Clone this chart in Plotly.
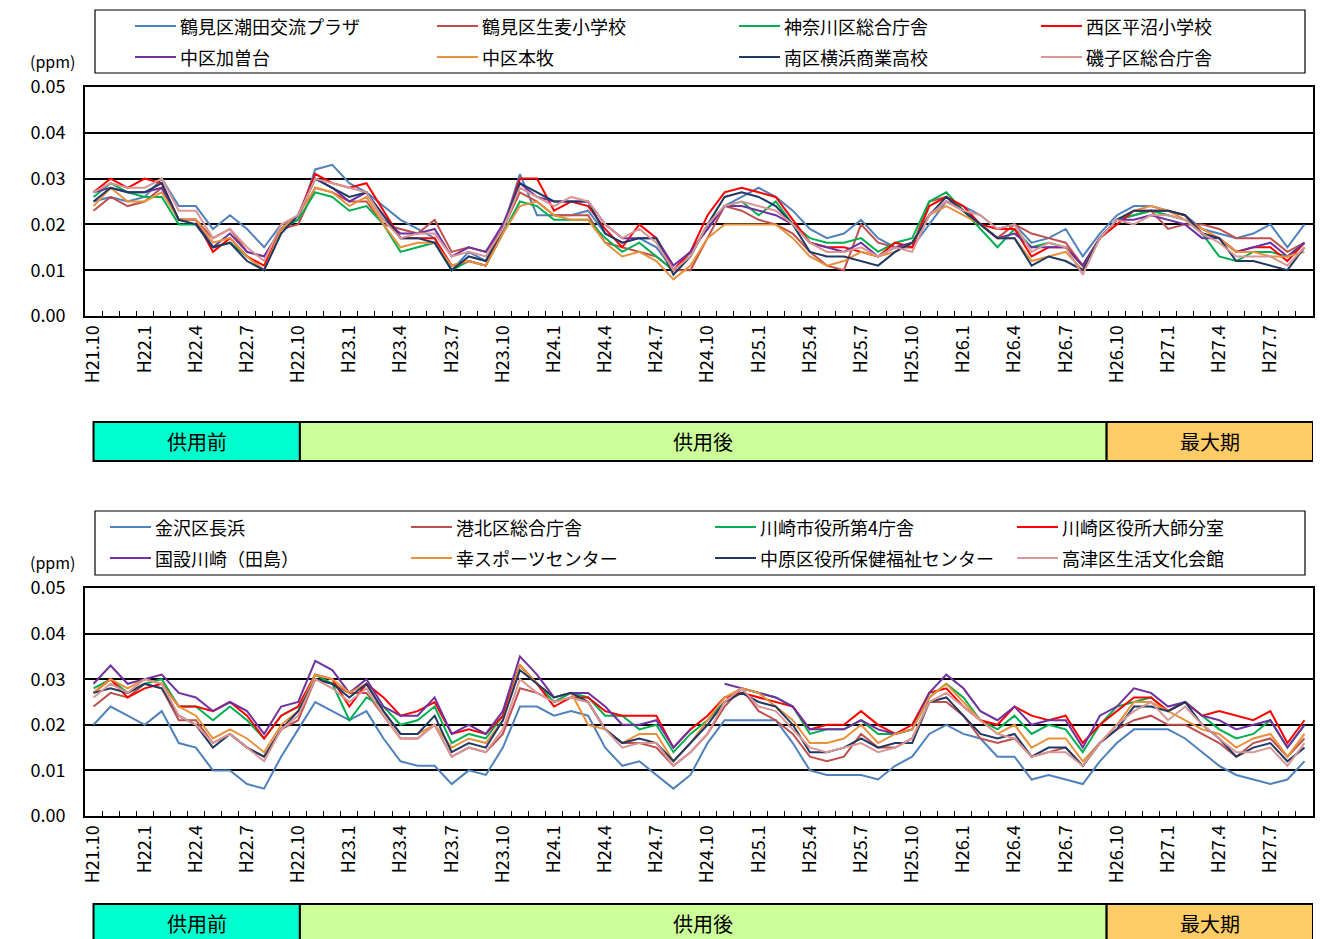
import plotly.graph_objects as go

W, H = 1326, 939
FONT = "Noto Sans CJK JP"

# Monthly categories H21.10 ... H27.9
months = []
yy, mm = 21, 10
for _ in range(72):
    months.append(f"H{yy}.{mm}")
    mm += 1
    if mm > 12:
        mm, yy = 1, yy + 1
tick_text = [lab if k % 3 == 0 else "" for k, lab in enumerate(months)]

colors = ["#4F81BD", "#C0504D", "#00B050", "#FF0000",
          "#7030A0", "#E8913A", "#1F3864", "#D99694"]

# ---- upper chart: Yokohama stations (ppm) ----
top_names = ["鶴見区潮田交流プラザ", "鶴見区生麦小学校", "神奈川区総合庁舎", "西区平沼小学校",
             "中区加曽台", "中区本牧", "南区横浜商業高校", "磯子区総合庁舎"]

ushioda = [0.025, 0.026, 0.025, 0.026, 0.030, 0.024, 0.024, 0.019, 0.022, 0.019, 0.015, 0.020, 0.021, 0.032, 0.033,
           0.029, 0.027, 0.024, 0.021, 0.019, 0.017, 0.010, 0.014, 0.012, 0.019, 0.031, 0.022, 0.022, 0.022,
           0.023, 0.018, 0.016, 0.017, 0.015, 0.010, 0.014, 0.019, 0.024, 0.026, 0.028, 0.026, 0.023, 0.019,
           0.017, 0.018, 0.021, 0.017, 0.015, 0.015, 0.020, 0.025, 0.024, 0.022, 0.019, 0.020, 0.016, 0.017,
           0.019, 0.013, 0.018, 0.022, 0.024, 0.024, 0.023, 0.022, 0.019, 0.018, 0.017, 0.018, 0.020, 0.015, 0.020]
namamugi = [0.023, 0.026, 0.024, 0.025, 0.028, 0.021, 0.021, 0.017, 0.019, 0.014, 0.013, 0.019, 0.020, 0.028, 0.027,
            0.025, 0.025, 0.020, 0.019, 0.018, 0.021, 0.014, 0.015, 0.014, 0.019, 0.027, 0.025, 0.022, 0.022,
            0.022, 0.016, 0.015, 0.014, 0.013, 0.010, 0.010, 0.017, 0.024, 0.023, 0.021, 0.020, 0.018, 0.014,
            0.011, 0.010, 0.020, 0.016, 0.015, 0.015, 0.025, 0.026, 0.023, 0.020, 0.017, 0.020, 0.018, 0.017,
            0.016, 0.011, 0.017, 0.021, 0.022, 0.023, 0.019, 0.020, 0.020, 0.019, 0.017, 0.017, 0.017, 0.014, 0.016]
kanagawa = [0.026, 0.029, 0.027, 0.026, 0.026, 0.020, 0.020, 0.015, 0.016, 0.013, 0.010, 0.019, 0.021, 0.027, 0.026,
            0.023, 0.024, 0.020, 0.014, 0.015, 0.016, 0.010, 0.012, 0.011, 0.018, 0.025, 0.024, 0.021, 0.021,
            0.021, 0.017, 0.014, 0.016, 0.013, 0.010, 0.013, 0.020, 0.024, 0.025, 0.022, 0.025, 0.020, 0.017,
            0.016, 0.016, 0.017, 0.014, 0.016, 0.017, 0.025, 0.027, 0.023, 0.019, 0.015, 0.019, 0.015, 0.016,
            0.015, 0.011, 0.017, 0.021, 0.022, 0.023, 0.022, 0.021, 0.018, 0.013, 0.012, 0.014, 0.014, 0.013, 0.016]
hiranuma = [0.027, 0.030, 0.028, 0.030, 0.029, 0.021, 0.021, 0.014, 0.017, 0.013, 0.011, 0.019, 0.022, 0.031, 0.029,
            0.028, 0.029, 0.023, 0.017, 0.017, 0.017, 0.011, 0.012, 0.011, 0.019, 0.030, 0.030, 0.023, 0.025,
            0.024, 0.019, 0.015, 0.020, 0.017, 0.010, 0.014, 0.022, 0.027, 0.028, 0.027, 0.026, 0.021, 0.016,
            0.015, 0.015, 0.014, 0.013, 0.016, 0.015, 0.024, 0.026, 0.024, 0.020, 0.019, 0.019, 0.013, 0.015,
            0.015, 0.011, 0.017, 0.020, 0.023, 0.023, 0.023, 0.022, 0.018, 0.017, 0.014, 0.015, 0.015, 0.012, 0.016]
kasodai = [0.027, 0.028, 0.027, 0.027, 0.028, 0.021, 0.021, 0.015, 0.018, 0.014, 0.013, 0.019, 0.022, 0.030, 0.028,
           0.025, 0.027, 0.021, 0.018, 0.018, 0.019, 0.013, 0.015, 0.014, 0.020, 0.029, 0.026, 0.025, 0.025,
           0.025, 0.020, 0.017, 0.017, 0.017, 0.011, 0.014, 0.019, 0.024, 0.024, 0.023, 0.022, 0.020, 0.016,
           0.015, 0.014, 0.016, 0.013, 0.015, 0.016, 0.022, 0.025, 0.023, 0.020, 0.017, 0.018, 0.015, 0.015,
           0.015, 0.011, 0.017, 0.021, 0.021, 0.022, 0.021, 0.020, 0.017, 0.017, 0.014, 0.015, 0.016, 0.013, 0.016]
honmoku = [0.024, 0.028, 0.025, 0.025, 0.027, 0.021, 0.021, 0.016, 0.017, 0.013, 0.010, 0.019, 0.022, 0.028, 0.027,
           0.024, 0.026, 0.020, 0.015, 0.016, 0.016, 0.011, 0.012, 0.011, 0.018, 0.024, 0.025, 0.022, 0.021,
           0.021, 0.016, 0.013, 0.014, 0.012, 0.008, 0.011, 0.017, 0.020, 0.020, 0.020, 0.020, 0.017, 0.013,
           0.011, 0.012, 0.014, 0.013, 0.014, 0.016, 0.022, 0.024, 0.022, 0.020, 0.017, 0.017, 0.012, 0.013,
           0.014, 0.010, 0.017, 0.021, 0.023, 0.024, 0.023, 0.021, 0.019, 0.017, 0.014, 0.014, 0.013, 0.013, 0.014]
yokoshou = [0.025, 0.028, 0.027, 0.027, 0.029, 0.021, 0.020, 0.015, 0.016, 0.012, 0.010, 0.018, 0.022, 0.030, 0.028,
            0.026, 0.027, 0.022, 0.017, 0.017, 0.016, 0.010, 0.013, 0.012, 0.019, 0.029, 0.027, 0.025, 0.025,
            0.025, 0.018, 0.016, 0.017, 0.017, 0.009, 0.013, 0.020, 0.026, 0.027, 0.026, 0.024, 0.020, 0.014,
            0.013, 0.013, 0.012, 0.011, 0.014, 0.016, 0.022, 0.026, 0.023, 0.020, 0.017, 0.017, 0.011, 0.013,
            0.012, 0.010, 0.017, 0.021, 0.023, 0.023, 0.023, 0.022, 0.018, 0.017, 0.012, 0.012, 0.011, 0.010, 0.015]
isogo = [0.027, 0.029, 0.028, 0.028, 0.030, 0.023, 0.023, 0.017, 0.019, 0.015, 0.012, 0.020, 0.022, 0.030, 0.029,
         0.028, 0.027, 0.021, 0.017, 0.018, 0.018, 0.013, 0.014, 0.013, 0.019, 0.028, 0.026, 0.024, 0.026,
         0.025, 0.020, 0.017, 0.019, 0.016, 0.010, 0.013, 0.020, 0.024, 0.025, 0.024, 0.023, 0.020, 0.016,
         0.014, 0.014, 0.015, 0.013, 0.015, 0.014, 0.022, 0.025, 0.023, 0.022, 0.019, 0.020, 0.014, 0.016,
         0.015, 0.009, 0.017, 0.021, 0.020, 0.022, 0.022, 0.021, 0.018, 0.016, 0.013, 0.013, 0.013, 0.011, 0.015]

# ---- lower chart: Yokohama south / Kawasaki stations (ppm) ----
bottom_names = ["金沢区長浜", "港北区総合庁舎", "川崎市役所第4庁舎", "川崎区役所大師分室",
                "国設川崎（田島）", "幸スポーツセンター", "中原区役所保健福祉センター", "高津区生活文化会館"]

nagahama = [0.020, 0.024, 0.022, 0.020, 0.023, 0.016, 0.015, 0.010, 0.010, 0.007, 0.006, 0.013, 0.019, 0.025, 0.023,
            0.021, 0.023, 0.017, 0.012, 0.011, 0.011, 0.007, 0.010, 0.009, 0.015, 0.024, 0.024, 0.022, 0.023,
            0.022, 0.015, 0.011, 0.012, 0.009, 0.006, 0.009, 0.016, 0.021, 0.021, 0.021, 0.021, 0.016, 0.010,
            0.009, 0.009, 0.009, 0.008, 0.011, 0.013, 0.018, 0.020, 0.018, 0.017, 0.013, 0.013, 0.008, 0.009,
            0.008, 0.007, 0.012, 0.016, 0.019, 0.019, 0.019, 0.017, 0.014, 0.011, 0.009, 0.008, 0.007, 0.008, 0.012]
kohoku = [0.024, 0.027, 0.026, 0.029, 0.028, 0.021, 0.021, 0.016, 0.018, 0.015, 0.013, 0.019, 0.021, 0.030, 0.029,
          0.027, 0.027, 0.022, 0.017, 0.017, 0.020, 0.013, 0.015, 0.014, 0.018, 0.028, 0.027, 0.025, 0.026,
          0.025, 0.019, 0.016, 0.016, 0.015, 0.011, 0.014, 0.018, 0.024, 0.028, 0.023, 0.021, 0.018, 0.013,
          0.012, 0.013, 0.018, 0.015, 0.015, 0.017, 0.025, 0.025, 0.022, 0.017, 0.016, 0.017, 0.013, 0.014,
          0.015, 0.011, 0.016, 0.019, 0.021, 0.022, 0.020, 0.020, 0.018, 0.016, 0.013, 0.016, 0.017, 0.013, 0.017]
kawasaki4 = [0.028, 0.030, 0.027, 0.029, 0.030, 0.024, 0.024, 0.021, 0.024, 0.021, 0.017, 0.022, 0.024, 0.031, 0.029,
             0.021, 0.026, 0.024, 0.020, 0.021, 0.024, 0.016, 0.018, 0.017, 0.022, 0.033, 0.029, 0.025, 0.027,
             0.026, 0.022, 0.022, 0.019, 0.020, 0.014, 0.018, 0.021, 0.025, 0.028, 0.027, 0.026, 0.024, 0.018,
             0.019, 0.019, 0.021, 0.018, 0.018, 0.019, 0.026, 0.029, 0.026, 0.021, 0.019, 0.022, 0.018, 0.020,
             0.019, 0.014, 0.020, 0.024, 0.025, 0.026, 0.023, 0.025, 0.022, 0.019, 0.017, 0.018, 0.021, 0.015, 0.020]
daishi = [0.027, 0.030, 0.026, 0.028, 0.029, 0.024, 0.024, 0.023, 0.025, 0.022, 0.017, 0.022, 0.024, 0.031, 0.030,
          0.024, 0.029, 0.026, 0.022, 0.023, 0.025, 0.018, 0.019, 0.018, 0.022, 0.033, 0.029, 0.024, 0.026,
          0.026, 0.023, 0.022, 0.022, 0.022, 0.015, 0.019, 0.022, 0.026, 0.027, 0.026, 0.025, 0.024, 0.019,
          0.020, 0.020, 0.023, 0.020, 0.018, 0.020, 0.027, 0.028, 0.024, 0.021, 0.020, 0.024, 0.022, 0.021,
          0.022, 0.016, 0.020, 0.023, 0.026, 0.026, 0.023, 0.025, 0.022, 0.023, 0.022, 0.021, 0.023, 0.016, 0.021]
tajima = [0.029, 0.033, 0.029, 0.030, 0.031, 0.027, 0.026, 0.023, 0.025, 0.023, 0.018, 0.024, 0.025, 0.034, 0.032,
          0.027, 0.030, 0.024, 0.022, 0.022, 0.026, 0.018, 0.020, 0.018, 0.023, 0.035, 0.031, 0.026, 0.027,
          0.027, 0.024, 0.020, 0.020, 0.021, 0.015, 0.019, None, 0.029, 0.028, 0.027, 0.026, 0.024, 0.019,
          0.019, 0.019, 0.021, 0.019, 0.018, 0.019, 0.027, 0.031, 0.028, 0.023, 0.021, 0.024, 0.020, 0.021,
          0.021, 0.015, 0.022, 0.024, 0.028, 0.027, 0.024, 0.025, 0.022, 0.021, 0.019, 0.020, 0.021, 0.015, 0.020]
saiwai = [0.027, 0.030, 0.028, 0.030, 0.029, 0.024, 0.022, 0.017, 0.019, 0.017, 0.014, 0.020, 0.023, 0.031, 0.030,
          0.027, 0.029, 0.023, 0.018, 0.018, 0.020, 0.015, 0.017, 0.016, 0.021, 0.033, 0.029, 0.026, 0.027,
          0.020, 0.019, 0.016, 0.018, 0.018, 0.012, 0.016, 0.021, 0.026, 0.028, 0.027, 0.024, 0.021, 0.016,
          0.016, 0.017, 0.020, 0.016, 0.018, 0.019, 0.026, 0.029, 0.025, 0.021, 0.018, 0.020, 0.015, 0.017,
          0.017, 0.012, 0.016, 0.020, 0.025, 0.025, 0.023, 0.021, 0.019, 0.018, 0.015, 0.017, 0.018, 0.013, 0.018]
nakahara = [0.027, 0.028, 0.027, 0.029, 0.028, 0.022, 0.020, 0.015, 0.018, 0.015, 0.013, 0.019, 0.023, 0.030, 0.029,
            0.026, 0.029, 0.023, 0.018, 0.018, 0.022, 0.014, 0.016, 0.015, 0.021, 0.032, 0.029, 0.026, 0.027,
            0.025, 0.019, 0.016, 0.017, 0.016, 0.012, 0.016, 0.020, 0.025, 0.027, 0.025, 0.024, 0.020, 0.014,
            0.014, 0.015, 0.017, 0.015, 0.016, 0.016, 0.025, 0.026, 0.022, 0.018, 0.017, 0.018, 0.013, 0.015,
            0.015, 0.011, 0.016, 0.019, 0.024, 0.024, 0.023, 0.025, 0.020, 0.017, 0.013, 0.015, 0.016, 0.012, 0.015]
takatsu = [0.026, 0.029, 0.027, 0.030, 0.029, 0.022, 0.020, 0.016, 0.018, 0.015, 0.012, 0.019, 0.022, 0.030, 0.028,
           0.025, 0.028, 0.022, 0.017, 0.017, 0.020, 0.013, 0.015, 0.014, 0.019, 0.030, 0.027, 0.025, 0.026,
           0.025, 0.019, 0.015, 0.016, 0.016, 0.011, 0.014, 0.018, 0.025, 0.028, 0.024, 0.023, 0.019, 0.015,
           0.014, 0.015, 0.016, 0.014, 0.015, 0.017, 0.025, 0.027, 0.024, 0.021, 0.018, 0.017, 0.013, 0.014,
           0.014, 0.011, 0.016, 0.020, 0.023, 0.025, 0.021, 0.024, 0.020, 0.017, 0.014, 0.014, 0.015, 0.011, 0.016]

top_series = [ushioda, namamugi, kanagawa, hiranuma, kasodai, honmoku, yokoshou, isogo]
bottom_series = [nagahama, kohoku, kawasaki4, daishi, tajima, saiwai, nakahara, takatsu]

# Period bands (label, start, end in category index units, fill)
periods = [("供用前", 0.0, 12.1, "#00FFCC"),
           ("供用後", 12.1, 59.4, "#CCFF99"),
           ("最大期", 59.4, 71.5, "#FFCC66")]


def px(x):
    return x / W


def py(y):
    return 1 - y / H


fig = go.Figure()
for vals, name, col in zip(top_series, top_names, colors):
    fig.add_trace(go.Scatter(x=months, y=vals, name=name, mode="lines",
                             line=dict(color=col, width=2), xaxis="x", yaxis="y",
                             showlegend=False, connectgaps=False))
for vals, name, col in zip(bottom_series, bottom_names, colors):
    fig.add_trace(go.Scatter(x=months, y=vals, name=name, mode="lines",
                             line=dict(color=col, width=2), xaxis="x2", yaxis="y2",
                             showlegend=False, connectgaps=False))

xcommon = dict(type="category", categoryorder="array", categoryarray=months,
               tickmode="array", tickvals=months, ticktext=tick_text,
               tickangle=-90, tickson="boundaries", ticks="inside", ticklen=5,
               tickcolor="black", tickwidth=1, showline=True, mirror=True,
               linecolor="black", linewidth=2, showgrid=False, automargin=False,
               range=[-0.5, 71.5], tickfont=dict(family=FONT, size=18, color="black"))
ycommon = dict(range=[0, 0.05], dtick=0.01, tick0=0, tickformat=".2f",
               showgrid=True, gridcolor="black", gridwidth=1.5,
               showline=True, mirror=True, linecolor="black", linewidth=2,
               zeroline=False, ticks="", ticklabelstandoff=14, automargin=False,
               tickfont=dict(family=FONT, size=18, color="black"))

fig.update_layout(
    width=W, height=H, autosize=False,
    margin=dict(l=0, r=0, t=0, b=0, pad=0, autoexpand=False),
    paper_bgcolor="white", plot_bgcolor="white",
    font=dict(family=FONT, color="black"),
    xaxis=dict(domain=[px(85), px(1313)], anchor="y", **xcommon),
    yaxis=dict(domain=[py(316), py(87)], anchor="x", **ycommon),
    xaxis2=dict(domain=[px(85), px(1313)], anchor="y2", **xcommon),
    yaxis2=dict(domain=[py(816), py(588)], anchor="x2", **ycommon),
)

shapes = []
annotations = []

# legend boxes with line swatches
legend_specs = [
    (top_names, (95, 10, 1305, 73), [135, 437, 739, 1041], [26, 57]),
    (bottom_names, (95, 511, 1305, 575), [110, 411, 715, 1017], [527, 558]),
]
for names, (bx0, by0, bx1, by1), cols_x, rows_y in legend_specs:
    shapes.append(dict(type="rect", xref="paper", yref="paper",
                       x0=px(bx0), x1=px(bx1), y0=py(by1), y1=py(by0),
                       line=dict(color="black", width=1.2), fillcolor="rgba(0,0,0,0)"))
    for k, (name, col) in enumerate(zip(names, colors)):
        lx = cols_x[k % 4]
        ly = rows_y[k // 4]
        shapes.append(dict(type="line", xref="paper", yref="paper",
                           x0=px(lx), x1=px(lx + 41), y0=py(ly), y1=py(ly),
                           line=dict(color=col, width=2)))
        annotations.append(dict(text=name, xref="paper", yref="paper",
                                x=px(lx + 43), y=py(ly), xanchor="left", yanchor="middle",
                                showarrow=False, font=dict(family=FONT, size=18, color="black")))

# unit labels
for uy in (61, 562):
    annotations.append(dict(text="(ppm)", xref="paper", yref="paper", x=px(52), y=py(uy),
                            xanchor="center", yanchor="middle", showarrow=False,
                            font=dict(family=FONT, size=16, color="black")))

# period bands under each chart
for xref, (top_px, bot_px) in (("x", (422, 461)), ("x2", (904, 943))):
    for label, s, e, fill in periods:
        shapes.append(dict(type="rect", xref=xref, yref="paper",
                           x0=s, x1=e, y0=py(bot_px), y1=py(top_px),
                           fillcolor=fill, line=dict(color="black", width=2), layer="below"))
        annotations.append(dict(text=label, xref=xref, yref="paper",
                                x=(s + e) / 2, y=py((top_px + bot_px) / 2),
                                xanchor="center", yanchor="middle", showarrow=False,
                                font=dict(family=FONT, size=20, color="black")))

fig.update_layout(shapes=shapes, annotations=annotations)
fig.write_html("out.html")
